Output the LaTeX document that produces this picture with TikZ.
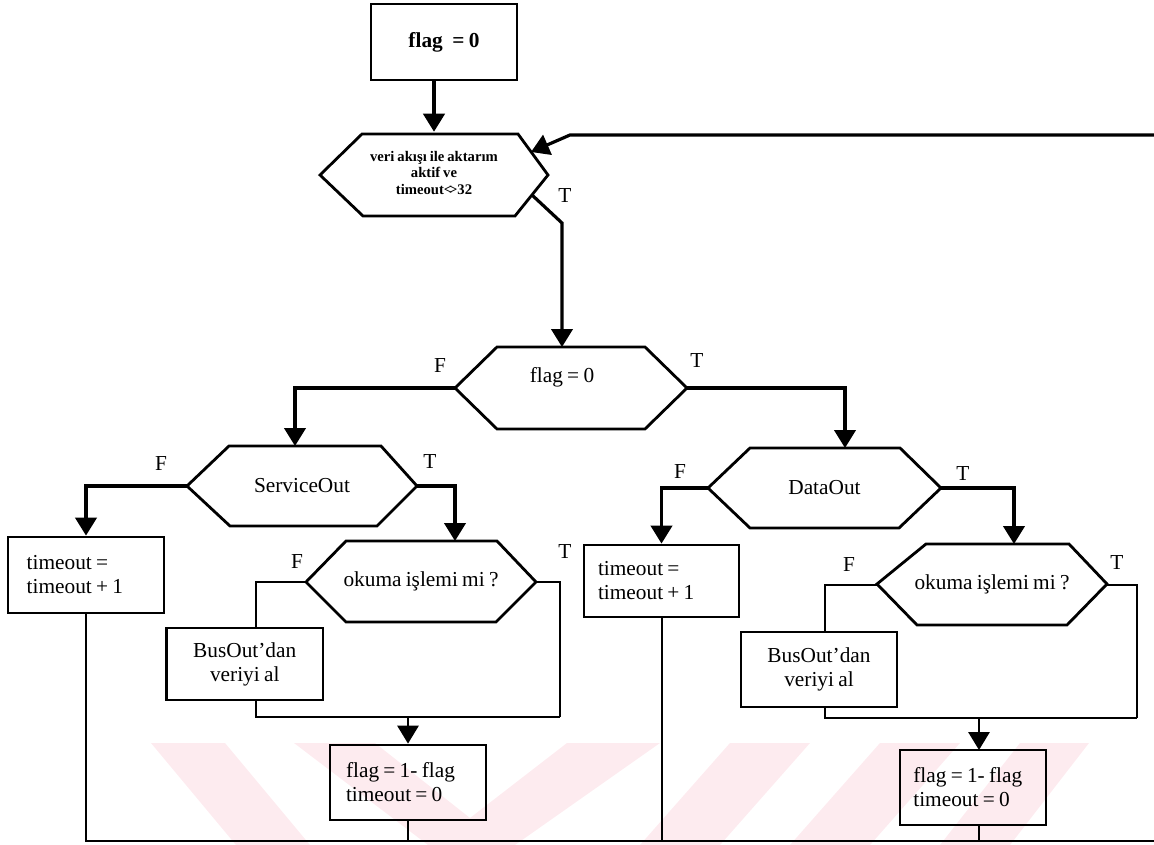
\documentclass[tikz,border=0pt]{standalone}
\usepackage{fontspec}
\setmainfont{Liberation Serif}
\usetikzlibrary{arrows.meta}
\definecolor{markpink}{RGB}{253,235,239}
\begin{document}
\begin{tikzpicture}[x=0.75pt,y=-0.75pt,
  every node/.style={font=\fontsize{16}{18}\selectfont, inner sep=0pt,
    execute at begin node={\spaceskip=0.2em plus 0.1em minus 0.05em}},
  procbox/.style={draw, line width=2.1pt, rectangle},
  hexline/.style={line width=2.1pt, line join=miter},
  hexlabel/.style={align=center},
  flow/.style={line width=2.4pt, -{Triangle[length=13.5pt,width=16pt]}},
  thinline/.style={line width=1.5pt},
  thinflow/.style={line width=1.5pt, -{Triangle[length=13.5pt,width=16pt]}},
  lbl/.style={font=\fontsize{16}{18}\selectfont}
]
\useasboundingbox (0,0) rectangle (1154,845);

% ---------- pale background mark ----------
\fill[markpink] (151,743) -- (225,743) -- (310,845) -- (236,845) -- cycle;
\fill[markpink] (294,743) -- (375,743) -- (470,818) -- (567,743) -- (660,743) -- (515,845) -- (428,845) -- cycle;
\fill[markpink] (640,845) -- (720,845) -- (810,743) -- (730,743) -- cycle;
\fill[markpink] (790,845) -- (870,845) -- (960,743) -- (880,743) -- cycle;
\fill[markpink] (940,845) -- (1010,845) -- (1089,743) -- (1020,743) -- cycle;

% ---------- process boxes ----------
\node[procbox, minimum width=109.5pt, minimum height=57pt, font=\fontsize{16}{18}\selectfont\bfseries]
  (b0) at (444,42) {flag\hspace{0.45em}= 0};
\node[procbox, minimum width=117pt, minimum height=57pt, inner xsep=14pt, text width=89pt, align=left]
  (tb1) at (86,575) {timeout =\\timeout + 1};
\node[procbox, minimum width=116.25pt, minimum height=54pt, inner xsep=10.5pt, text width=95.25pt, align=left]
  (tb2) at (661.5,581) {timeout =\\timeout + 1};
\node[procbox, minimum width=117.4pt, minimum height=54pt, align=center]
  (bo1) at (244.75,664) {BusOut’dan\\veriyi al};
\node[procbox, minimum width=117pt, minimum height=56.25pt, align=center]
  (bo2) at (819,669.5) {BusOut’dan\\veriyi al};
\node[procbox, minimum width=117pt, minimum height=56.25pt, inner xsep=12pt, text width=93pt, align=left]
  (fb1) at (408,782.5) {flag = 1- flag\\timeout = 0};
\node[procbox, minimum width=109.5pt, minimum height=56.25pt, inner xsep=10pt, text width=89.5pt, align=left]
  (fb2) at (973,787.5) {flag = 1- flag\\timeout = 0};

% ---------- decision hexagons ----------
\node[hexlabel, minimum width=171pt, minimum height=61.5pt, font=\fontsize{11}{12.6}\selectfont\bfseries]
  (h1) at (434,173) {veri akışı ile aktarım\\aktif ve\\timeout<\kern-0.22em>32};
\draw[hexline] (320,175) -- (362,134) -- (518,134) -- (548,175) -- (515,216) -- (363,216) -- cycle;

\node[hexlabel, minimum width=174pt, minimum height=61.5pt] (h2) at (571,388) {};
\node (h2text) at (562,377) {flag = 0};
\draw[hexline] (455,388) -- (497,347) -- (645,347) -- (687,388) -- (645,429) -- (497,429) -- cycle;

\node[hexlabel, minimum width=172.5pt, minimum height=60pt] (so) at (302,486) {ServiceOut};
\draw[hexline] (187,486) -- (229,446) -- (381,446) -- (417,486) -- (377,526) -- (230,526) -- cycle;

\node[hexlabel, minimum width=174.75pt, minimum height=60pt] (do) at (824.5,488) {DataOut};
\draw[hexline] (708,488) -- (750,448) -- (900,448) -- (941,488) -- (899,528) -- (750,528) -- cycle;

\node[hexlabel, minimum width=172.5pt, minimum height=60.75pt] (ok1) at (421,581.5) {okuma işlemi mi ?};
\draw[hexline] (306,582) -- (346,541) -- (497,541) -- (536,582) -- (496,622) -- (346,622) -- cycle;

\node[hexlabel, minimum width=172.5pt, minimum height=60.75pt] (ok2) at (992,584.5) {okuma işlemi mi ?};
\draw[hexline] (877,584) -- (926,544) -- (1069,544) -- (1107,584) -- (1067,625) -- (917,625) -- cycle;

% ---------- connector end points ----------
\coordinate (loopin) at (1154,135);
\coordinate (h1ne) at (531,152);
\coordinate (h1se) at (532,195);
\coordinate (h2in) at (562,347);
\coordinate (soin) at (295,446);
\coordinate (doin) at (845,448);
\coordinate (ok1in) at (455,541);
\coordinate (ok2in) at (1014,544);
\coordinate (bo1in) at (256,628);
\coordinate (bo2in) at (825,632);
\coordinate (j1) at (560,717);
\coordinate (j2) at (1137,718);
\coordinate (fb2in) at (979,750);
\coordinate (bot) at (1154,841);

% ---------- connectors ----------
\draw[flow] (b0.south -| h1.north) -- (h1.north);
\draw[flow] (loopin) -- (570,135) -- (h1ne);
\draw[flow] (h1se) -- (562,223) -- (h2in);
\draw[flow] (h2.west) -| (soin);
\draw[flow] (h2.east) -| (doin);
\draw[flow] (so.west) -| (tb1.north);
\draw[flow] (so.east) -| (ok1in);
\draw[flow] (do.west) -| (tb2.north);
\draw[flow] (do.east) -| (ok2in);

\draw[thinline] (ok1.west) -| (bo1in);
\draw[thinline] (ok1.east) -| (j1);
\draw[thinline] (bo1in |- bo1.south) -- (bo1in |- j1) -- (j1);
\draw[thinflow] (fb1.north |- j1) -- (fb1.north);

\draw[thinline] (ok2.west) -| (bo2in);
\draw[thinline] (ok2.east) -| (j2);
\draw[thinline] (bo2in |- bo2.south) -- (bo2in |- j2) -- (j2);
\draw[thinflow] (fb2in |- j2) -- (fb2in);

\draw[thinline] (tb1.south) -- (tb1.south |- bot) -- (bot);
\draw[thinline] (fb1.south) -- (fb1.south |- bot);
\draw[thinline] (tb2.south) -- (tb2.south |- bot);
\draw[thinline] (fb2in |- fb2.south) -- (fb2in |- bot);

% ---------- branch labels ----------
\node[lbl] (t1) at (565,196) {T};
\node[lbl] (f2) at (440,366) {F};
\node[lbl] (t2) at (697,361) {T};
\node[lbl] (f3) at (161,464) {F};
\node[lbl] (t3) at (430,462) {T};
\node[lbl] (f4) at (297,562) {F};
\node[lbl] (t4) at (565,552) {T};
\node[lbl] (f5) at (680,472) {F};
\node[lbl] (t5) at (963,474) {T};
\node[lbl] (f6) at (849,565) {F};
\node[lbl] (t6) at (1117,563) {T};
\end{tikzpicture}
\end{document}
